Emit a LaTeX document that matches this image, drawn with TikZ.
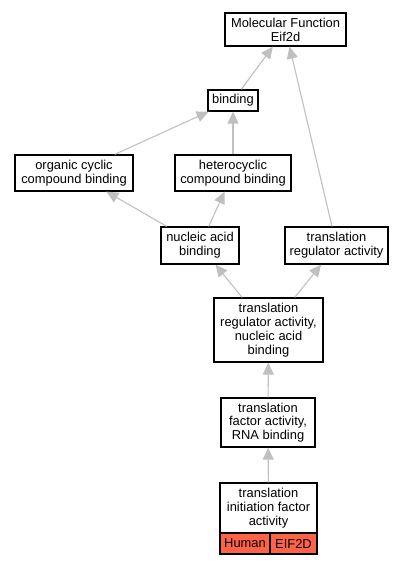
\documentclass[tikz,border=0pt]{standalone}
\usepackage{fontspec}
\setmainfont{Liberation Sans}
\usetikzlibrary{arrows.meta}
\definecolor{edgegray}{RGB}{192,192,192}
\definecolor{tomatored}{RGB}{255,99,71}
\begin{document}
\begin{tikzpicture}[x=1pt,y=-1pt,
  box/.style={draw=black, line width=1.25pt, fill=white, align=center, inner sep=0pt,
    font=\fontsize{12.9}{13.8}\selectfont},
  redbox/.style={box, fill=tomatored},
  edge/.style={draw=edgegray, line width=1.1pt, -{Triangle[length=12pt,width=11pt]}}]
\useasboundingbox (0,0) rectangle (408,565);
\node[box, minimum width=121, minimum height=33] (mf) at (285.5,29.5) {Molecular Function\\Eif2d};
\node[box, minimum width=50, minimum height=21] (bind) at (233,100.5) {binding};
\node[box, minimum width=118, minimum height=36] (ocb) at (74,173) {organic cyclic\\compound binding};
\node[box, minimum width=116, minimum height=36] (hcb) at (233,173) {heterocyclic\\compound binding};
\node[box, minimum width=78, minimum height=37] (nab) at (200,245.5) {nucleic acid\\binding};
\node[box, minimum width=103, minimum height=37] (tra) at (336.5,245.5) {translation\\regulator activity};
\node[box, minimum width=109, minimum height=64] (tran) at (268.5,330) {translation\\regulator activity,\\nucleic acid\\binding};
\node[box, minimum width=94, minimum height=49] (tfa) at (268,422.5) {translation\\factor activity,\\RNA binding};
\node[box, minimum width=97, minimum height=50] (tifa) at (268.5,508) {translation\\initiation factor\\activity};
\node[redbox, minimum width=50, minimum height=21] (human) at (245,543.5) {Human};
\node[redbox, minimum width=47, minimum height=21] (eif) at (293.5,543.5) {EIF2D};
\draw[edge] (bind) -- (mf);
\draw[edge] (tra) -- (mf);
\draw[edge] (ocb) -- (bind);
\draw[edge] (hcb) -- (bind);
\draw[edge] (nab) -- (ocb);
\draw[edge] (nab) -- (hcb);
\draw[edge] (tran) -- (nab);
\draw[edge] (tran) -- (tra);
\draw[edge] (tfa) -- (tran);
\draw[edge] (tifa) -- (tfa);
\end{tikzpicture}
\end{document}
